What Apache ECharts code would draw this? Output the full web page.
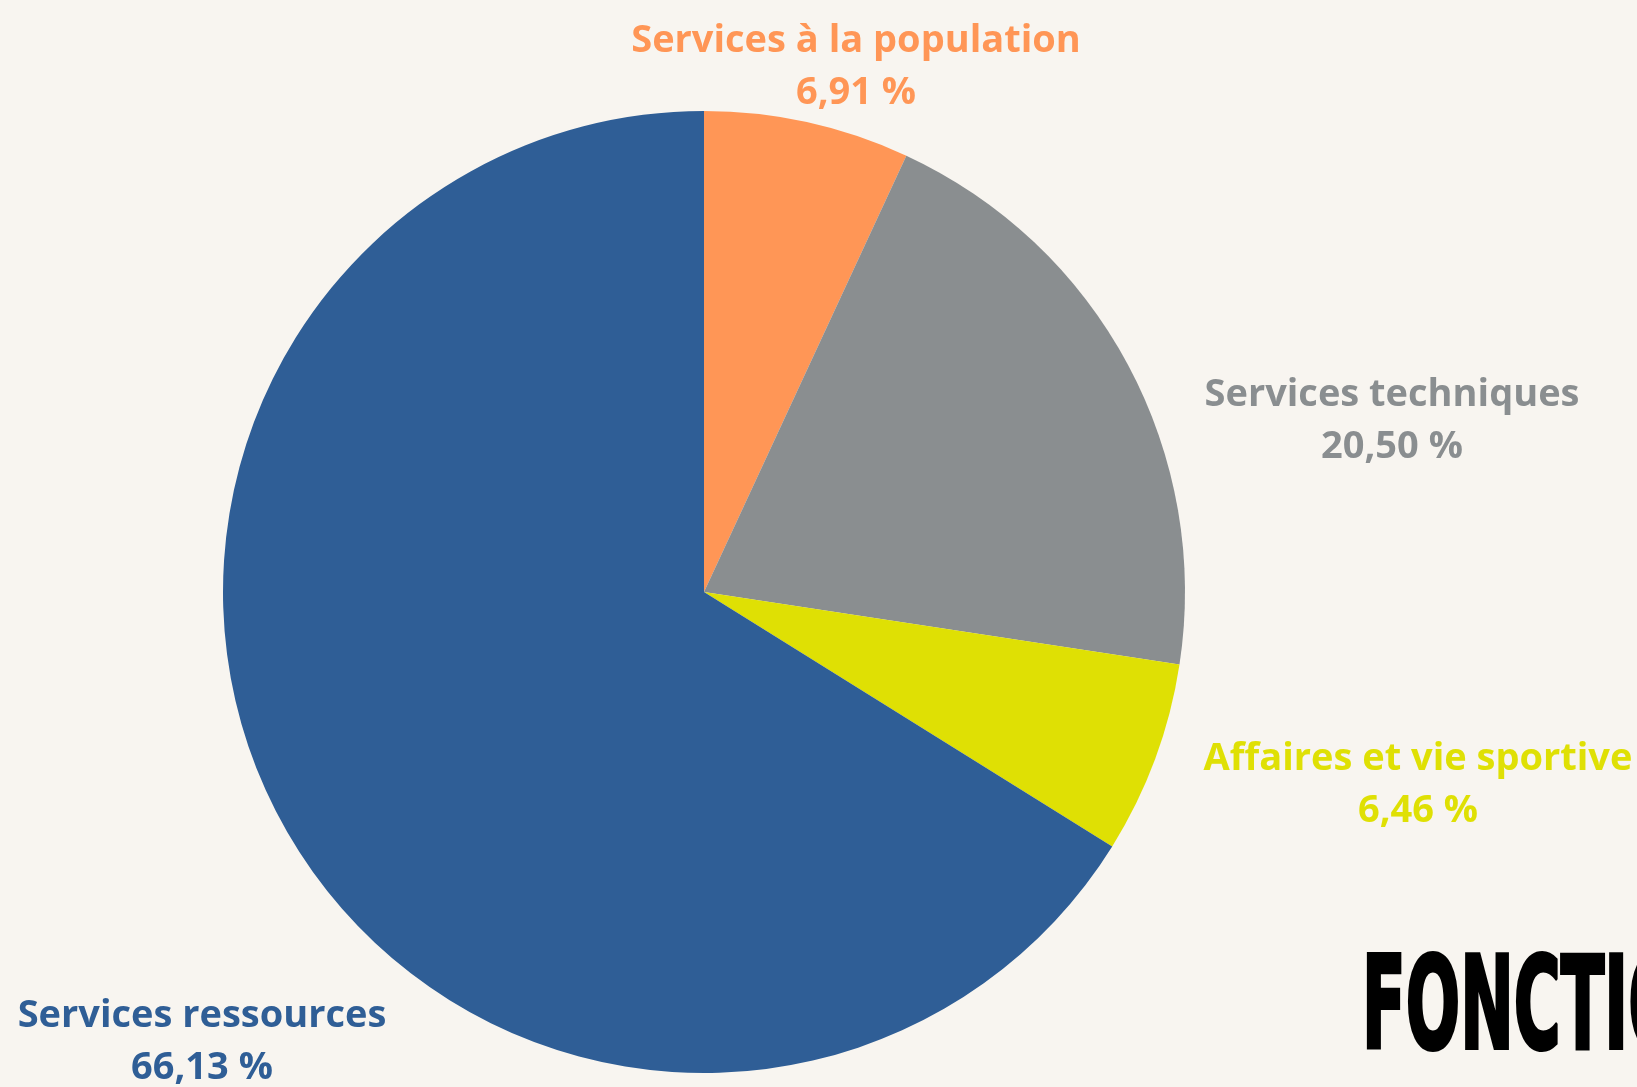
<!DOCTYPE html>
<html>
<head>
<meta charset="utf-8">
<script src="https://cdn.jsdelivr.net/npm/echarts@6/dist/echarts.min.js"></script>
<style>
html,body{margin:0;padding:0;background:#F8F5F0;}
#chart{width:1637px;height:1087px;}
</style>
</head>
<body>
<div id="chart"></div>
<script>
const categories = ['Services à la population', 'Services techniques', 'Affaires et vie sportive', 'Services ressources'];
const values = [6.91, 20.50, 6.46, 66.13];
const colors = ['#FF9656', '#8A8E90', '#DFE004', '#2F5E96'];
const labelSpots = [[856, 67], [1392, 421], [1418, 785], [202, 1042]];

const chart = echarts.init(document.getElementById('chart'));
chart.setOption({
  backgroundColor: '#F8F5F0',
  animation: false,
  graphic: [{
    type: 'text',
    left: 1361,
    top: 949,
    style: {
      text: 'FONCTIONNEMENT',
      font: 'bold 128px "DejaVu Sans", sans-serif',
      fill: '#000000',
      stroke: '#000000',
      lineWidth: 4
    },
    scaleX: 0.5
  }],
  series: [{
    type: 'pie',
    center: [704, 592],
    radius: [0, 481],
    startAngle: 90,
    clockwise: true,
    silent: true,
    data: categories.map((c, i) => ({
      name: c,
      value: values[i],
      itemStyle: { color: colors[i] },
      label: { color: colors[i] }
    })),
    label: {
      show: true,
      position: 'outside',
      formatter: p => p.name + '\n' + p.value.toFixed(2).replace('.', ',') + ' %',
      fontFamily: '"Open Sans", sans-serif',
      fontWeight: 'bold',
      fontSize: 38,
      lineHeight: 52,
      align: 'center',
      overflow: 'none',
      width: 600
    },
    labelLine: { show: false },
    labelLayout: p => ({
      x: labelSpots[p.dataIndex][0],
      y: labelSpots[p.dataIndex][1],
      align: 'center',
      verticalAlign: 'middle'
    })
  }]
});
</script>
</body>
</html>
